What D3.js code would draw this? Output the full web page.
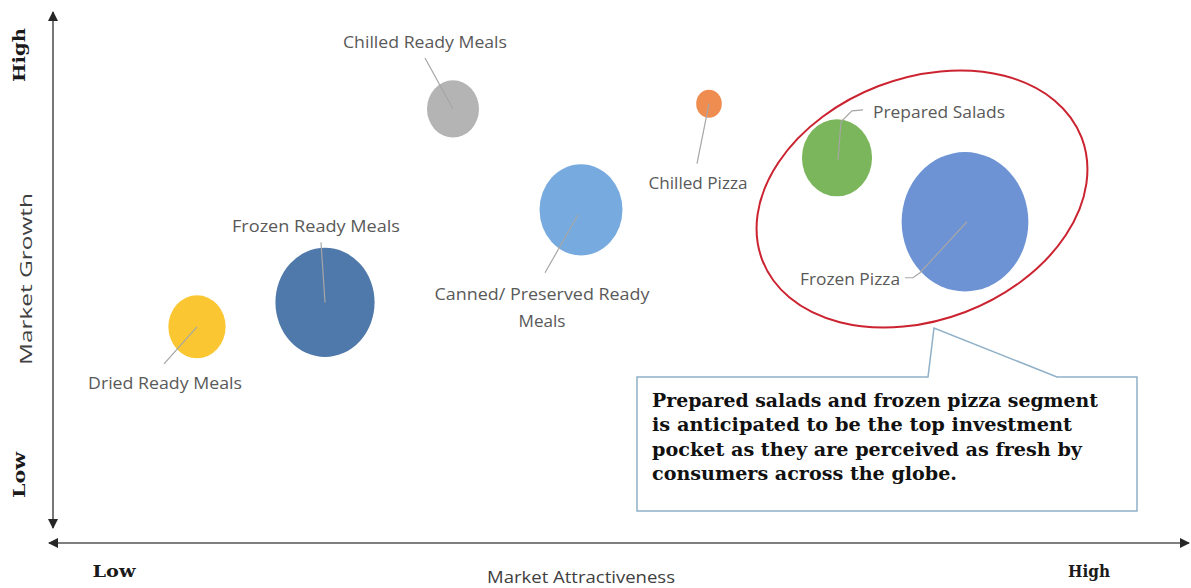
<!DOCTYPE html>
<html>
<head>
<meta charset="utf-8">
<script src="https://cdn.jsdelivr.net/npm/d3@7/dist/d3.min.js"></script>
<style>
  body { margin: 0; background: #fff; }
  svg { display: block; }
</style>
</head>
<body>
<svg id="chart" width="1191" height="588"></svg>
<script>
// ---- data ----
var segments = ["Dried Ready Meals", "Frozen Ready Meals", "Chilled Ready Meals",
  "Canned/ Preserved Ready Meals", "Chilled Pizza", "Prepared Salads", "Frozen Pizza"];
var attractiveness = [1, 2, 3, 4, 5, 6, 7];          // position along x (0..8)
var growth = [4.1, 4.57, 8.29, 6.35, 8.39, 7.35, 6.12]; // position along y (0..10)
var marketSize = [20, 60, 16.5, 42, 4, 30, 98];       // bubble size
var bubbleColors = ["#fac732", "#4f79aa", "#b4b4b4", "#77abe0", "#ef8c50", "#7cb65c", "#6d93d4"];

var xEnds = ["Low", "High"];
var yEnds = ["Low", "High"];
var xTitle = "Market Attractiveness";
var yTitle = "Market Growth";
var calloutLines = [
  "Prepared salads and frozen pizza segment",
  "is anticipated to be the top investment",
  "pocket as they are perceived as fresh by",
  "consumers across the globe."
];

// label placement, offsets from the bubble centre, and text widths (layout only)
var labelLayout = {
  "Dried Ready Meals":   { lines: ["Dried Ready Meals"], widths: [154], dx: -32, dy: 62, anchor: "middle",
                           leader: [[0, 0], [-33, 37]] },
  "Frozen Ready Meals":  { lines: ["Frozen Ready Meals"], widths: [168], dx: -9, dy: -70, anchor: "middle",
                           leader: [[-4, -60], [0, 0]] },
  "Chilled Ready Meals": { lines: ["Chilled Ready Meals"], widths: [164], dx: -28, dy: -61, anchor: "middle",
                           leader: [[-28, -51], [0, 0]] },
  "Canned/ Preserved Ready Meals": { lines: ["Canned/ Preserved Ready", "Meals"], widths: [215, 47], dx: -39, dy: 90, anchor: "middle",
                           leader: [[-3, 5], [-36, 63]] },
  "Chilled Pizza":       { lines: ["Chilled Pizza"], widths: [99], dx: -11, dy: 85, anchor: "middle",
                           leader: [[0, 0], [-12, 60]] },
  "Prepared Salads":     { lines: ["Prepared Salads"], widths: [132], dx: 36, dy: -40, anchor: "start",
                           leader: [[26, -48], [15, -47], [4, -36], [1, 2]] },
  "Frozen Pizza":        { lines: ["Frozen Pizza"], widths: [100], dx: -65, dy: 63, anchor: "end",
                           leader: [[-60, 56], [-52, 56], [-45, 51], [2, 0]] }
};
var calloutWidths = [446, 420, 430, 305];

var svg = d3.select("#chart");

var x = d3.scaleLinear().domain([0, 8]).range([69, 1093]);
var y = d3.scaleLinear().domain([0, 10]).range([540, 20]);
var r = d3.scaleSqrt().domain([0, 100]).range([0, 64]);
var aspect = 1.1; // bubbles are drawn slightly taller than wide

var data = segments.map(function(name, i) {
  return { name: name, x: attractiveness[i], y: growth[i], size: marketSize[i], color: bubbleColors[i] };
});

// ---- axes (arrows both ends) ----
var defs = svg.append("defs");
defs.append("marker")
  .attr("id", "arrow")
  .attr("viewBox", "0 0 10 10")
  .attr("refX", 9).attr("refY", 5)
  .attr("markerWidth", 10).attr("markerHeight", 11)
  .attr("markerUnits", "userSpaceOnUse")
  .attr("orient", "auto-start-reverse")
  .append("path")
  .attr("d", "M0,0 L10,5 L0,10 Z")
  .attr("fill", "#262626");

svg.append("line")
  .attr("x1", 53).attr("y1", 528).attr("x2", 53).attr("y2", 12)
  .attr("stroke", "#555").attr("stroke-width", 1.6)
  .attr("marker-start", "url(#arrow)").attr("marker-end", "url(#arrow)");

svg.append("line")
  .attr("x1", 49).attr("y1", 543).attr("x2", 1189).attr("y2", 543)
  .attr("stroke", "#555").attr("stroke-width", 1.6)
  .attr("marker-start", "url(#arrow)").attr("marker-end", "url(#arrow)");

var serifBold = "'DejaVu Serif', serif";
var sans = "'Open Sans', sans-serif";

function endLabel(g, tx, ty, rot, txt, w) {
  g.append("text")
    .attr("transform", "translate(" + tx + "," + ty + ")" + (rot ? " rotate(-90)" : ""))
    .attr("text-anchor", "middle")
    .attr("textLength", w).attr("lengthAdjust", "spacingAndGlyphs")
    .style("font-family", serifBold).style("font-weight", "bold").style("font-size", "16px")
    .attr("fill", "#1a1a1a").text(txt);
}

// y axis texts
endLabel(svg, 25, 55, true, yEnds[1], 54);
endLabel(svg, 25, 475, true, yEnds[0], 46);
svg.append("text")
  .attr("transform", "translate(32,279) rotate(-90)")
  .attr("text-anchor", "middle")
  .attr("textLength", 172).attr("lengthAdjust", "spacingAndGlyphs")
  .style("font-family", sans).style("font-size", "15.5px")
  .attr("fill", "#404040").text(yTitle);

// x axis texts
endLabel(svg, 114, 577, false, xEnds[0], 43);
endLabel(svg, 1089, 577, false, xEnds[1], 42);
svg.append("text")
  .attr("x", 581).attr("y", 583).attr("text-anchor", "middle")
  .attr("textLength", 188).attr("lengthAdjust", "spacingAndGlyphs")
  .style("font-family", sans).style("font-size", "15.5px")
  .attr("fill", "#404040").text(xTitle);

// ---- bubbles ----
svg.append("g").selectAll("ellipse")
  .data(data)
  .join("ellipse")
  .attr("cx", function(d) { return x(d.x); })
  .attr("cy", function(d) { return y(d.y); })
  .attr("rx", function(d) { return r(d.size); })
  .attr("ry", function(d) { return r(d.size) * aspect; })
  .attr("fill", function(d) { return d.color; });

// leader lines
var line = d3.line();
svg.append("g").selectAll("path")
  .data(data)
  .join("path")
  .attr("d", function(d) {
    var L = labelLayout[d.name], cx = x(d.x), cy = y(d.y);
    return line(L.leader.map(function(p) { return [cx + p[0], cy + p[1]]; }));
  })
  .attr("fill", "none")
  .attr("stroke", "#a6a6a6")
  .attr("stroke-width", 1.2);

// labels
var labels = svg.append("g").selectAll("text")
  .data(data)
  .join("text")
  .attr("text-anchor", function(d) { return labelLayout[d.name].anchor; })
  .attr("x", function(d) { return x(d.x) + labelLayout[d.name].dx; })
  .attr("y", function(d) { return y(d.y) + labelLayout[d.name].dy; })
  .style("font-family", sans).style("font-size", "15.5px")
  .attr("fill", "#595959");

labels.selectAll("tspan")
  .data(function(d) {
    var L = labelLayout[d.name];
    return L.lines.map(function(t, i) { return { t: t, w: L.widths[i], x: x(d.x) + L.dx, i: i }; });
  })
  .join("tspan")
  .attr("x", function(d) { return d.x; })
  .attr("dy", function(d) { return d.i === 0 ? 0 : 27; })
  .attr("textLength", function(d) { return d.w; })
  .attr("lengthAdjust", "spacingAndGlyphs")
  .text(function(d) { return d.t; });

// ---- highlight ellipse ----
svg.append("ellipse")
  .attr("cx", 922).attr("cy", 199)
  .attr("rx", 171).attr("ry", 121)
  .attr("transform", "rotate(-21,922,199)")
  .attr("fill", "none")
  .attr("stroke", "#cc2331")
  .attr("stroke-width", 2);

// ---- callout box ----
svg.append("path")
  .attr("d", "M637,377 L928,377 L934,328 L1057,377 L1137,377 L1137,511 L637,511 Z")
  .attr("fill", "#fff")
  .attr("stroke", "#8fb0c8")
  .attr("stroke-width", 1.5);

svg.append("g").selectAll("text")
  .data(calloutLines)
  .join("text")
  .attr("x", 652)
  .attr("y", function(d, i) { return 407 + i * 24.3; })
  .attr("textLength", function(d, i) { return calloutWidths[i]; })
  .attr("lengthAdjust", "spacingAndGlyphs")
  .style("font-family", serifBold).style("font-weight", "bold").style("font-size", "19px")
  .attr("fill", "#111")
  .text(function(d) { return d; });
</script>
</body>
</html>
